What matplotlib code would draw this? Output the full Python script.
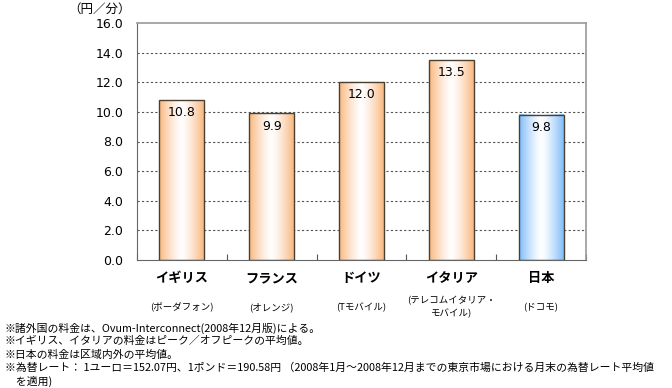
import matplotlib
matplotlib.use("Agg")
import matplotlib.pyplot as plt
import numpy as np
from matplotlib.colors import LinearSegmentedColormap

plt.rcParams['font.family'] = ['Noto Sans CJK JP', 'DejaVu Sans']

categories = ["イギリス", "フランス", "ドイツ", "イタリア", "日本"]
carriers = ["(ボーダフォン)", "(オレンジ)", "(Tモバイル)", "(テレコムイタリア・\nモバイル)", "(ドコモ)"]
values = [10.8, 9.9, 12.0, 13.5, 9.8]
bar_kind = ["orange", "orange", "orange", "orange", "blue"]
yticks = [0, 2, 4, 6, 8, 10, 12, 14, 16]
notes = [
    "※諸外国の料金は、Ovum-Interconnect(2008年12月版)による。",
    "※イギリス、イタリアの料金はピーク／オフピークの平均値。",
    "※日本の料金は区域内外の平均値。",
    "※為替レート： 1ユーロ＝152.07円、1ポンド＝190.58円 （2008年1月～2008年12月までの東京市場における月末の為替レート平均値",
    "　を適用)",
]

edge_cols = {"orange": (0.98, 0.72, 0.50), "blue": (0.50, 0.74, 0.98)}

fig = plt.figure(figsize=(6.72, 3.88), dpi=100)
ax = fig.add_axes([137/672, 1-260/388, (586-137)/672, (260-23)/388])

x = np.arange(len(categories))
width = 0.5
ax.set_xlim(-0.5, len(categories) - 0.5)
ax.set_ylim(0, 16)

for yv in yticks[1:-1]:
    ax.axhline(yv, color="#555555", lw=0.8, ls=(0, (2, 2)), zorder=1)

grad = np.abs(np.linspace(-1, 1, 256))[None, :] ** 1.3
for xi, v, kind in zip(x, values, bar_kind):
    cmap = LinearSegmentedColormap.from_list("g", [(1, 1, 1), edge_cols[kind]])
    ax.imshow(grad, cmap=cmap, aspect="auto",
              extent=(xi - width/2, xi + width/2, 0, v), zorder=2, vmin=0, vmax=1)
    ax.bar([xi], [v], width=width, facecolor="none", edgecolor="#4a4030", lw=1.0, zorder=3)
    ax.text(xi, v - 0.42, f"{v:.1f}", ha="center", va="top", fontsize=9, zorder=4,
            family=["DejaVu Sans"])

ax.set_yticks(yticks)
ax.set_yticklabels([f"{t:.1f}" for t in yticks], fontsize=9, family=["DejaVu Sans"])
ax.tick_params(axis="y", length=0, pad=10)
ax.set_xticks(np.arange(len(categories) + 1) - 0.5)
ax.set_xticklabels([])
ax.tick_params(axis="x", direction="in", length=4, color="#555555")

for s in ["left", "bottom"]:
    ax.spines[s].set_color("#666666")
for s in ["top", "right"]:
    ax.spines[s].set_color("#999999")
    ax.spines[s].set_linewidth(1.2)

fig.text(131/672, 1 - 9/388, "（円／分）", ha="right", va="center", fontsize=9)

for xi, c, s in zip(x, categories, carriers):
    ax.annotate(c, xy=(xi, 0), xycoords=("data", "axes fraction"), xytext=(0, -13),
                textcoords="offset points", ha="center", va="center", fontsize=9.5, fontweight="bold")
    ax.annotate(s, xy=(xi, 0), xycoords=("data", "axes fraction"), xytext=(0, -34),
                textcoords="offset points", ha="center", va="center",
                fontsize=6.8, linespacing=1.5)

y0 = 328
for i, n in enumerate(notes):
    fig.text(5/672, 1 - (y0 + i*13.3)/388, n, ha="left", va="center", fontsize=7.8)

fig.savefig("out.png", dpi=100)
